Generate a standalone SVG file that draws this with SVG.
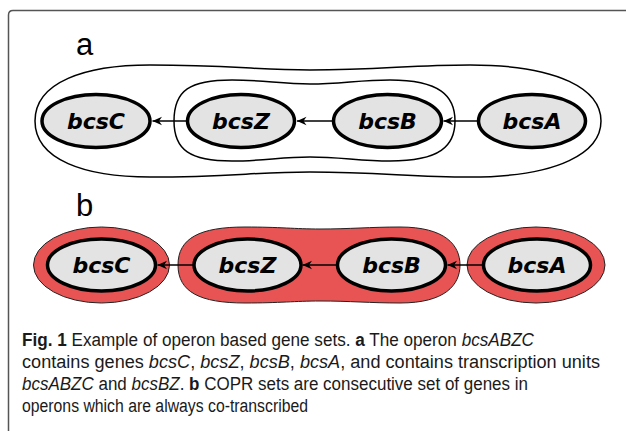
<svg xmlns="http://www.w3.org/2000/svg" width="626" height="431" viewBox="0 0 626 431">
<defs>
<style>
.gene{fill:#e3e3e3;stroke:#000;stroke-width:3.5}
.glabel{font-family:"DejaVu Sans",sans-serif;font-weight:bold;font-style:italic;font-size:22px;text-anchor:middle;fill:#000}
.blob{fill:none;stroke:#000;stroke-width:1.5}
.red{fill:#e85353;stroke:#222;stroke-width:1}
.edge{stroke:#000;stroke-width:1.6;fill:none;marker-end:url(#vee)}
.panel{font-family:"Liberation Sans",Arial,sans-serif;font-size:31px;fill:#000}
.cap{font-family:"Liberation Sans",Arial,sans-serif;font-size:18px;fill:#1a1a1a}
</style>
<marker id="vee" markerUnits="userSpaceOnUse" markerWidth="12" markerHeight="10" refX="10" refY="5" orient="auto">
<path d="M0.5,0.8 L10,5 L0.5,9.2 L3.5,5 Z" fill="#000"/>
</marker>
</defs>
<rect width="626" height="431" fill="#fff"/>
<path d="M8.5,431 V15 Q8.5,10.5 13,10.5 H626" fill="none" stroke="#555" stroke-width="1.5"/>

<text class="panel" x="76" y="55">a</text>
<text class="panel" x="76" y="216">b</text>

<g id="tu-bcsABZC">
<path class="blob" d="M35,121 C35,82 85,65 150,65 C230,65 255,70 310,70 C380,70 410,65 470,65 C560,65 601,90 601,121 C601,152 560,177 470,177 C410,177 380,172 310,172 C255,172 230,177 150,177 C85,177 35,160 35,121 Z"/>
</g>
<g id="tu-bcsBZ">
<path class="blob" d="M174,121 C174,90 190,80 232,80 C262,80 282,84 310,84 C340,84 360,80 390,80 C440,80 455,96 455,121 C455,146 440,161 390,161 C360,161 340,157 310,157 C282,157 262,161 232,161 C190,161 174,150 174,121 Z"/>
</g>

<g id="copr-bcsC"><ellipse class="red" cx="101.5" cy="265" rx="68" ry="38"/></g>
<g id="copr-bcsZB">
<path class="red" d="M178,265 C178,238 200,227 245,227 C280,227 295,229 320,229 C350,229 370,227 400,227 C445,227 460,245 460,265 C460,285 445,303 400,303 C370,303 350,301 320,301 C295,301 280,303 245,303 C200,303 178,292 178,265 Z"/>
</g>
<g id="copr-bcsA"><ellipse class="red" cx="536" cy="265" rx="69" ry="38"/></g>

<g id="connectors">
<line class="edge" x1="186" y1="121" x2="152.5" y2="121"/>
<line class="edge" x1="332" y1="121" x2="297" y2="121"/>
<line class="edge" x1="477" y1="121" x2="443.5" y2="121"/>
<line class="edge" x1="193" y1="265" x2="157.5" y2="265"/>
<line class="edge" x1="336" y1="265" x2="302.5" y2="265"/>
<line class="edge" x1="482" y1="265" x2="447.5" y2="265"/>
</g>

<g id="a-bcsC"><ellipse class="gene" cx="96" cy="121" rx="54" ry="26.5"/><text class="glabel" x="96" y="129">bcsC</text></g>
<g id="a-bcsZ"><ellipse class="gene" cx="241" cy="121" rx="53.5" ry="26.5"/><text class="glabel" x="241" y="129">bcsZ</text></g>
<g id="a-bcsB"><ellipse class="gene" cx="387.5" cy="121" rx="54" ry="26.5"/><text class="glabel" x="387.5" y="129">bcsB</text></g>
<g id="a-bcsA"><ellipse class="gene" cx="532" cy="121" rx="53.5" ry="26.5"/><text class="glabel" x="532" y="129">bcsA</text></g>

<g id="b-bcsC"><ellipse class="gene" cx="101.5" cy="265" rx="54" ry="26"/><text class="glabel" x="101.5" y="273">bcsC</text></g>
<g id="b-bcsZ"><ellipse class="gene" cx="247.5" cy="265" rx="53.5" ry="26"/><text class="glabel" x="247.5" y="273">bcsZ</text></g>
<g id="b-bcsB"><ellipse class="gene" cx="391.5" cy="265" rx="54" ry="26"/><text class="glabel" x="391.5" y="273">bcsB</text></g>
<g id="b-bcsA"><ellipse class="gene" cx="537" cy="265" rx="53.5" ry="26"/><text class="glabel" x="537" y="273">bcsA</text></g>

<g id="caption">
<text class="cap" x="22" y="346" textLength="512" lengthAdjust="spacingAndGlyphs"><tspan font-weight="bold">Fig. 1</tspan> Example of operon based gene sets. <tspan font-weight="bold">a</tspan> The operon <tspan font-style="italic">bcsABZC</tspan></text>
<text class="cap" x="22" y="368" textLength="578" lengthAdjust="spacingAndGlyphs">contains genes <tspan font-style="italic">bcsC</tspan>, <tspan font-style="italic">bcsZ</tspan>, <tspan font-style="italic">bcsB</tspan>, <tspan font-style="italic">bcsA</tspan>, and contains transcription units</text>
<text class="cap" x="22" y="390" textLength="506" lengthAdjust="spacingAndGlyphs"><tspan font-style="italic">bcsABZC</tspan> and <tspan font-style="italic">bcsBZ</tspan>. <tspan font-weight="bold">b</tspan> COPR sets are consecutive set of genes in</text>
<text class="cap" x="22" y="412" textLength="286" lengthAdjust="spacingAndGlyphs">operons which are always co-transcribed</text>
</g>
</svg>
